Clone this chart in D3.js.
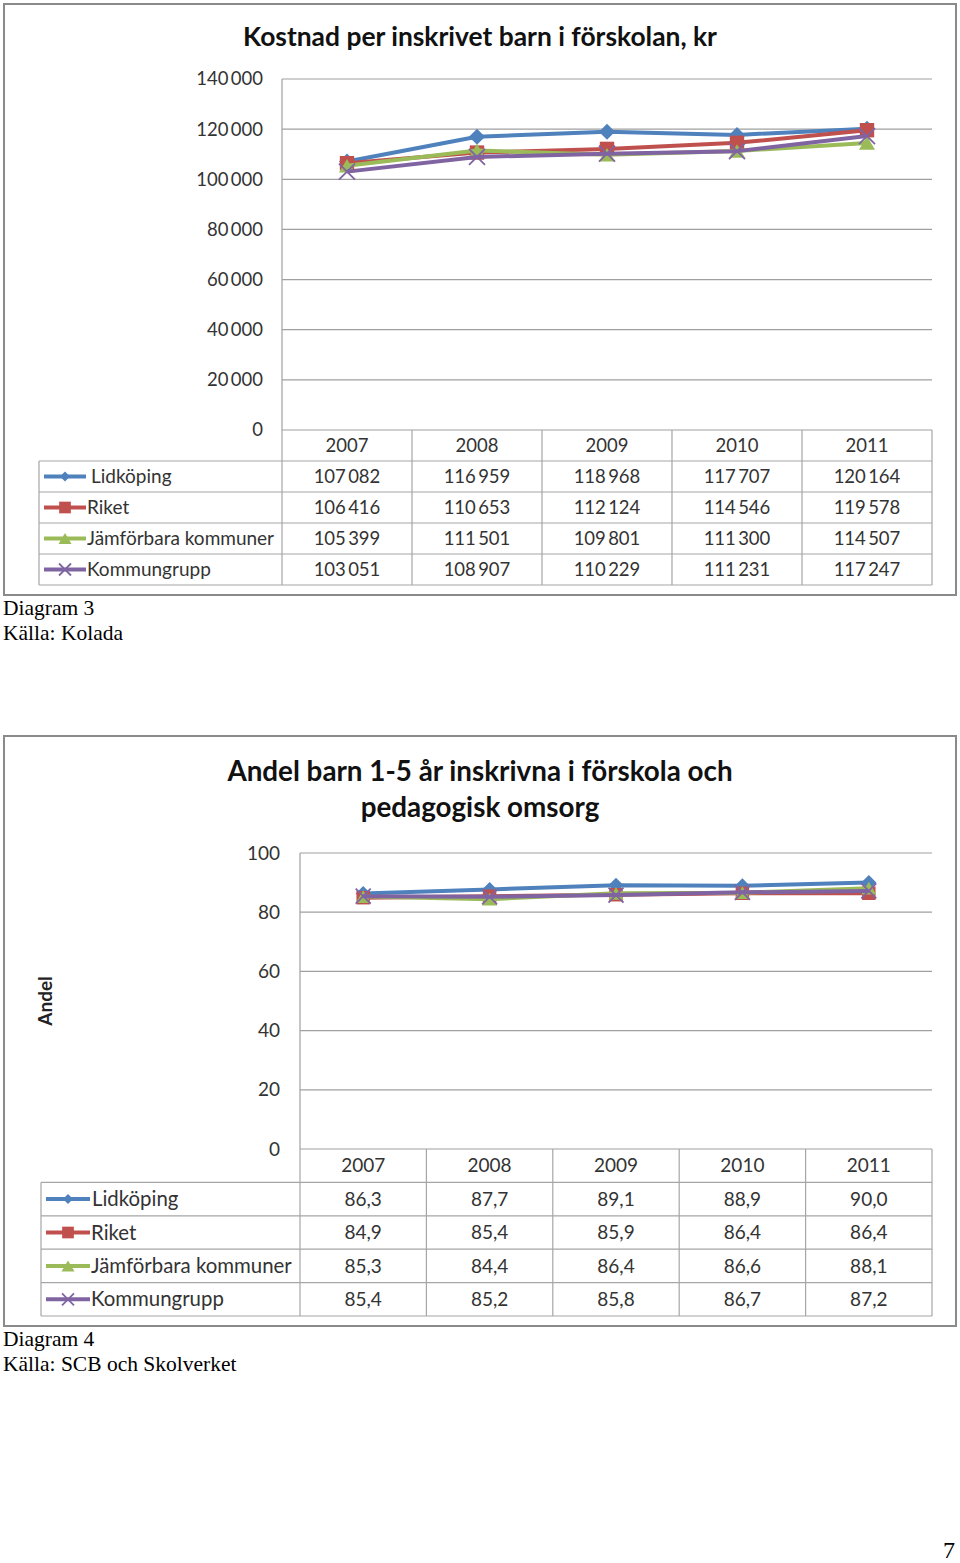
<!DOCTYPE html>
<html><head><meta charset="utf-8">
<script src="https://cdn.jsdelivr.net/npm/d3@7"></script>
<style>body{margin:0;background:#fff}svg{display:block}</style>
</head><body>
<script>
// ---------- DATA ----------
const years = ["2007", "2008", "2009", "2010", "2011"];
const seriesNames = ["Lidköping", "Riket", "Jämförbara kommuner", "Kommungrupp"];
const seriesColors = ["#4F81BD", "#C0504D", "#9BBB59", "#8064A2"];

const costLidkoping   = [107082, 116959, 118968, 117707, 120164];
const costRiket       = [106416, 110653, 112124, 114546, 119578];
const costJamforbara  = [105399, 111501, 109801, 111300, 114507];
const costKommungrupp = [103051, 108907, 110229, 111231, 117247];
const costTicks = [0, 20000, 40000, 60000, 80000, 100000, 120000, 140000];

const shareLidkoping   = [86.3, 87.7, 89.1, 88.9, 90.0];
const shareRiket       = [84.9, 85.4, 85.9, 86.4, 86.4];
const shareJamforbara  = [85.3, 84.4, 86.4, 86.6, 88.1];
const shareKommungrupp = [85.4, 85.2, 85.8, 86.7, 87.2];
const shareTicks = [0, 20, 40, 60, 80, 100];

// ---------- RENDER ----------
const W = 960, H = 1563;
const svg = d3.select("body").append("svg").attr("width", W).attr("height", H);
svg.append("rect").attr("width", W).attr("height", H).attr("fill", "#fff");

const se = d3.formatLocale({decimal: ",", thousands: "\u2009", grouping: [3], currency: ["", " kr"]});
const FONT = "Lato, 'Open Sans', sans-serif";
const markerTypes = ["diamond", "square", "triangle", "x"];

function marker(g, type, color, s) {
  const h = s / 2;
  let d;
  if (type === "x") {
    g.append("path").attr("d", `M${-h},${-h}L${h},${h}M${-h},${h}L${h},${-h}`)
      .attr("stroke", color).attr("stroke-width", 1.8).attr("fill", "none");
    return;
  }
  if (type === "diamond") d = `M0,${-h}L${h},0L0,${h}L${-h},0Z`;
  else if (type === "square") d = `M${-h * 0.9},${-h * 0.9}H${h * 0.9}V${h * 0.9}H${-h * 0.9}Z`;
  else d = `M0,${-h * 0.85}L${h},${h * 0.85}L${-h},${h * 0.85}Z`;
  g.append("path").attr("d", d).attr("fill", color);
}

function drawChart(cfg) {
  const g = svg.append("g");
  g.append("rect").attr("x", cfg.frame[0]).attr("y", cfg.frame[1])
    .attr("width", cfg.frame[2] - cfg.frame[0]).attr("height", cfg.frame[3] - cfg.frame[1])
    .attr("fill", "none").attr("stroke", "#8a8a8a").attr("stroke-width", 2);
  cfg.title.forEach((t, i) => {
    g.append("text").attr("x", cfg.titleX).attr("y", cfg.titleY + i * cfg.titleLH)
      .attr("text-anchor", "middle").attr("font-family", FONT).attr("font-weight", "bold")
      .attr("font-size", cfg.titleSize).attr("fill", "#111").text(t);
  });
  const x = d3.scaleBand().domain(years).range([cfg.left, cfg.right]);
  const y = d3.scaleLinear().domain(cfg.domain).range([cfg.bottom, cfg.top]);
  g.selectAll(".grid").data(cfg.ticks).join("line")
    .attr("x1", cfg.left).attr("x2", cfg.right)
    .attr("y1", d => y(d)).attr("y2", d => y(d))
    .attr("stroke", "#a0a0a0").attr("stroke-width", 1.2);
  g.append("line").attr("x1", cfg.left).attr("x2", cfg.left).attr("y1", cfg.top).attr("y2", cfg.bottom)
    .attr("stroke", "#a0a0a0").attr("stroke-width", 1.2);
  g.selectAll(".yt").data(cfg.ticks).join("text")
    .attr("x", cfg.tickX).attr("y", d => y(d)).attr("dy", "0.35em")
    .attr("text-anchor", "end").attr("font-family", FONT).attr("font-size", cfg.tickSize)
    .attr("fill", "#333").text(d => cfg.tickFmt(d));
  if (cfg.yLabel) {
    g.append("text").attr("transform", `translate(${cfg.yLabel[1]},${cfg.yLabel[2]}) rotate(-90)`)
      .attr("text-anchor", "middle").attr("font-family", FONT).attr("font-weight", "bold")
      .attr("font-size", cfg.yLabel[3]).attr("fill", "#222").text(cfg.yLabel[0]);
  }
  const rowsY = d3.range(5).map(i => cfg.bottom + i * cfg.rowH);
  const tEnd = cfg.bottom + 5 * cfg.rowH;
  const tc = "#a6a6a6";
  rowsY.slice(1).concat([tEnd]).forEach(yy => {
    g.append("line").attr("x1", cfg.legLeft).attr("x2", cfg.right).attr("y1", yy).attr("y2", yy)
      .attr("stroke", tc).attr("stroke-width", 1.2);
  });
  years.forEach(yr => {
    g.append("line").attr("x1", x(yr)).attr("x2", x(yr)).attr("y1", cfg.bottom).attr("y2", tEnd)
      .attr("stroke", tc).attr("stroke-width", 1.2);
  });
  g.append("line").attr("x1", cfg.right).attr("x2", cfg.right).attr("y1", cfg.bottom).attr("y2", tEnd)
    .attr("stroke", tc).attr("stroke-width", 1.2);
  g.append("line").attr("x1", cfg.legLeft).attr("x2", cfg.legLeft).attr("y1", rowsY[1]).attr("y2", tEnd)
    .attr("stroke", tc).attr("stroke-width", 1.2);
  g.selectAll(".yr").data(years).join("text")
    .attr("x", d => x(d) + x.bandwidth() / 2).attr("y", cfg.bottom + cfg.rowH / 2).attr("dy", "0.35em")
    .attr("text-anchor", "middle").attr("font-family", FONT).attr("font-size", cfg.tableSize)
    .attr("fill", "#333").text(d => d);
  cfg.series.forEach((vals, si) => {
    const color = seriesColors[si];
    const ry = rowsY[si + 1] + cfg.rowH / 2;
    g.selectAll(".v" + si).data(vals).join("text")
      .attr("x", (d, i) => x(years[i]) + x.bandwidth() / 2).attr("y", ry).attr("dy", "0.35em")
      .attr("text-anchor", "middle").attr("font-family", FONT).attr("font-size", cfg.tableSize)
      .attr("fill", "#333").text(d => cfg.valFmt(d));
    g.append("line").attr("x1", cfg.keyX[0]).attr("x2", cfg.keyX[1]).attr("y1", ry).attr("y2", ry)
      .attr("stroke", color).attr("stroke-width", 4);
    marker(g.append("g").attr("transform", `translate(${(cfg.keyX[0] + cfg.keyX[1]) / 2},${ry})`),
      markerTypes[si], color, [10, 13, 13, 12][si]);
    g.append("text").attr("x", cfg.keyX[1] + (si === 0 ? cfg.firstGap : 1)).attr("y", ry).attr("dy", "0.35em")
      .attr("font-family", FONT).attr("font-size", cfg.legSize).attr("fill", "#333").text(seriesNames[si]);
  });
  const line = d3.line().x((d, i) => x(years[i]) + x.bandwidth() / 2).y(d => y(d));
  cfg.series.forEach((vals, si) => {
    g.append("path").datum(vals).attr("d", line).attr("fill", "none")
      .attr("stroke", seriesColors[si]).attr("stroke-width", cfg.lineW).attr("stroke-linejoin", "round");
    vals.forEach((v, i) => {
      marker(g.append("g").attr("transform", `translate(${x(years[i]) + x.bandwidth() / 2},${y(v)})`),
        markerTypes[si], seriesColors[si], cfg.markerSize);
    });
  });
  cfg.captions.forEach((c, i) => {
    svg.append("text").attr("x", 3).attr("y", cfg.capY + i * 25).attr("font-family", "'Liberation Serif', 'Times New Roman', serif")
      .attr("font-size", 21.5).attr("fill", "#000").text(c);
  });
}

drawChart({
  frame: [4, 4, 956, 595],
  title: ["Kostnad per inskrivet barn i förskolan, kr"], titleX: 480, titleY: 46, titleLH: 0, titleSize: 26.4,
  left: 282, right: 932, top: 79, bottom: 430, domain: [0, 140000], ticks: costTicks,
  tickX: 263, tickSize: 18.5, tickFmt: d => se.format(",")(d),
  rowH: 31, legLeft: 39, keyX: [44, 86], firstGap: 5, tableSize: 18.5, legSize: 19,
  valFmt: d => se.format(",")(d),
  series: [costLidkoping, costRiket, costJamforbara, costKommungrupp],
  lineW: 4, markerSize: 16,
  captions: ["Diagram 3", "Källa: Kolada"], capY: 615
});

drawChart({
  frame: [4, 736, 956, 1326],
  title: ["Andel barn 1-5 år inskrivna i förskola och", "pedagogisk omsorg"], titleX: 480, titleY: 781, titleLH: 36, titleSize: 27.8,
  left: 300, right: 932, top: 853, bottom: 1149, domain: [0, 100], ticks: shareTicks,
  tickX: 280, tickSize: 19, tickFmt: d => d,
  yLabel: ["Andel", 52, 1001, 19],
  rowH: 33.4, legLeft: 41, keyX: [46, 90], firstGap: 2, tableSize: 19, legSize: 20.4,
  valFmt: d => se.format(".1f")(d),
  series: [shareLidkoping, shareRiket, shareJamforbara, shareKommungrupp],
  lineW: 4, markerSize: 15,
  captions: ["Diagram 4", "Källa: SCB och Skolverket"], capY: 1346
});

svg.append("text").attr("x", 955).attr("y", 1558).attr("text-anchor", "end")
  .attr("font-family", "'Liberation Serif', 'Times New Roman', serif").attr("font-size", 24).text("7");
</script>
</body></html>
